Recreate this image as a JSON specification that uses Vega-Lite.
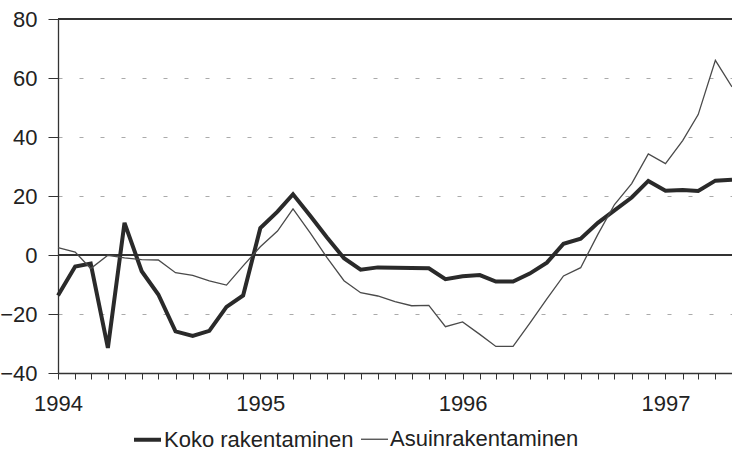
{
  "$schema": "https://vega.github.io/schema/vega-lite/v6.json",
  "width": 674,
  "height": 354,
  "autosize": {"type": "none"},
  "padding": {"left": 58, "top": 19, "right": 0, "bottom": 76},
  "background": "#ffffff",
  "config": {
    "view": {"stroke": null},
    "font": "Liberation Sans",
    "axis": {"domainColor": "#333333", "tickColor": "#333333", "labelColor": "#222222", "labelFont": "Liberation Sans", "domainWidth": 1.3, "tickWidth": 1}
  },
  "data": {
    "values": [
      {"kk": "1994-01-01", "sarja": "Koko rakentaminen", "arvo": -13.7},
      {"kk": "1994-02-01", "sarja": "Koko rakentaminen", "arvo": -3.9},
      {"kk": "1994-03-01", "sarja": "Koko rakentaminen", "arvo": -2.9},
      {"kk": "1994-04-01", "sarja": "Koko rakentaminen", "arvo": -31.5},
      {"kk": "1994-05-01", "sarja": "Koko rakentaminen", "arvo": 10.9},
      {"kk": "1994-06-01", "sarja": "Koko rakentaminen", "arvo": -5.5},
      {"kk": "1994-07-01", "sarja": "Koko rakentaminen", "arvo": -13.4},
      {"kk": "1994-08-01", "sarja": "Koko rakentaminen", "arvo": -25.9},
      {"kk": "1994-09-01", "sarja": "Koko rakentaminen", "arvo": -27.4},
      {"kk": "1994-10-01", "sarja": "Koko rakentaminen", "arvo": -25.7},
      {"kk": "1994-11-01", "sarja": "Koko rakentaminen", "arvo": -17.6},
      {"kk": "1994-12-01", "sarja": "Koko rakentaminen", "arvo": -13.7},
      {"kk": "1995-01-01", "sarja": "Koko rakentaminen", "arvo": 9.1},
      {"kk": "1995-02-01", "sarja": "Koko rakentaminen", "arvo": 14.7},
      {"kk": "1995-03-01", "sarja": "Koko rakentaminen", "arvo": 20.6},
      {"kk": "1995-04-01", "sarja": "Koko rakentaminen", "arvo": 13.3},
      {"kk": "1995-05-01", "sarja": "Koko rakentaminen", "arvo": 6.0},
      {"kk": "1995-06-01", "sarja": "Koko rakentaminen", "arvo": -1.1},
      {"kk": "1995-07-01", "sarja": "Koko rakentaminen", "arvo": -5.0},
      {"kk": "1995-08-01", "sarja": "Koko rakentaminen", "arvo": -4.2},
      {"kk": "1995-09-01", "sarja": "Koko rakentaminen", "arvo": -4.3},
      {"kk": "1995-10-01", "sarja": "Koko rakentaminen", "arvo": -4.4},
      {"kk": "1995-11-01", "sarja": "Koko rakentaminen", "arvo": -4.5},
      {"kk": "1995-12-01", "sarja": "Koko rakentaminen", "arvo": -8.2},
      {"kk": "1996-01-01", "sarja": "Koko rakentaminen", "arvo": -7.2},
      {"kk": "1996-02-01", "sarja": "Koko rakentaminen", "arvo": -6.8},
      {"kk": "1996-03-01", "sarja": "Koko rakentaminen", "arvo": -9.0},
      {"kk": "1996-04-01", "sarja": "Koko rakentaminen", "arvo": -9.0},
      {"kk": "1996-05-01", "sarja": "Koko rakentaminen", "arvo": -6.3},
      {"kk": "1996-06-01", "sarja": "Koko rakentaminen", "arvo": -2.6},
      {"kk": "1996-07-01", "sarja": "Koko rakentaminen", "arvo": 3.8},
      {"kk": "1996-08-01", "sarja": "Koko rakentaminen", "arvo": 5.5},
      {"kk": "1996-09-01", "sarja": "Koko rakentaminen", "arvo": 10.9},
      {"kk": "1996-10-01", "sarja": "Koko rakentaminen", "arvo": 15.1},
      {"kk": "1996-11-01", "sarja": "Koko rakentaminen", "arvo": 19.5},
      {"kk": "1996-12-01", "sarja": "Koko rakentaminen", "arvo": 25.1},
      {"kk": "1997-01-01", "sarja": "Koko rakentaminen", "arvo": 21.8},
      {"kk": "1997-02-01", "sarja": "Koko rakentaminen", "arvo": 22.0},
      {"kk": "1997-03-01", "sarja": "Koko rakentaminen", "arvo": 21.7},
      {"kk": "1997-04-01", "sarja": "Koko rakentaminen", "arvo": 25.2},
      {"kk": "1997-05-01", "sarja": "Koko rakentaminen", "arvo": 25.5},
      {"kk": "1994-01-01", "sarja": "Asuinrakentaminen", "arvo": 2.5},
      {"kk": "1994-02-01", "sarja": "Asuinrakentaminen", "arvo": 1.0},
      {"kk": "1994-03-01", "sarja": "Asuinrakentaminen", "arvo": -4.6},
      {"kk": "1994-04-01", "sarja": "Asuinrakentaminen", "arvo": -0.1},
      {"kk": "1994-05-01", "sarja": "Asuinrakentaminen", "arvo": -1.0},
      {"kk": "1994-06-01", "sarja": "Asuinrakentaminen", "arvo": -1.6},
      {"kk": "1994-07-01", "sarja": "Asuinrakentaminen", "arvo": -1.7},
      {"kk": "1994-08-01", "sarja": "Asuinrakentaminen", "arvo": -6.0},
      {"kk": "1994-09-01", "sarja": "Asuinrakentaminen", "arvo": -6.9},
      {"kk": "1994-10-01", "sarja": "Asuinrakentaminen", "arvo": -8.8},
      {"kk": "1994-11-01", "sarja": "Asuinrakentaminen", "arvo": -10.2},
      {"kk": "1994-12-01", "sarja": "Asuinrakentaminen", "arvo": -3.7},
      {"kk": "1995-01-01", "sarja": "Asuinrakentaminen", "arvo": 2.8},
      {"kk": "1995-02-01", "sarja": "Asuinrakentaminen", "arvo": 8.1},
      {"kk": "1995-03-01", "sarja": "Asuinrakentaminen", "arvo": 15.6},
      {"kk": "1995-04-01", "sarja": "Asuinrakentaminen", "arvo": 7.5},
      {"kk": "1995-05-01", "sarja": "Asuinrakentaminen", "arvo": -0.8},
      {"kk": "1995-06-01", "sarja": "Asuinrakentaminen", "arvo": -8.7},
      {"kk": "1995-07-01", "sarja": "Asuinrakentaminen", "arvo": -12.8},
      {"kk": "1995-08-01", "sarja": "Asuinrakentaminen", "arvo": -13.9},
      {"kk": "1995-09-01", "sarja": "Asuinrakentaminen", "arvo": -15.8},
      {"kk": "1995-10-01", "sarja": "Asuinrakentaminen", "arvo": -17.2},
      {"kk": "1995-11-01", "sarja": "Asuinrakentaminen", "arvo": -17.1},
      {"kk": "1995-12-01", "sarja": "Asuinrakentaminen", "arvo": -24.3},
      {"kk": "1996-01-01", "sarja": "Asuinrakentaminen", "arvo": -22.7},
      {"kk": "1996-02-01", "sarja": "Asuinrakentaminen", "arvo": -26.9},
      {"kk": "1996-03-01", "sarja": "Asuinrakentaminen", "arvo": -31.0},
      {"kk": "1996-04-01", "sarja": "Asuinrakentaminen", "arvo": -31.0},
      {"kk": "1996-05-01", "sarja": "Asuinrakentaminen", "arvo": -23.2},
      {"kk": "1996-06-01", "sarja": "Asuinrakentaminen", "arvo": -14.9},
      {"kk": "1996-07-01", "sarja": "Asuinrakentaminen", "arvo": -7.1},
      {"kk": "1996-08-01", "sarja": "Asuinrakentaminen", "arvo": -4.3},
      {"kk": "1996-09-01", "sarja": "Asuinrakentaminen", "arvo": 7.0},
      {"kk": "1996-10-01", "sarja": "Asuinrakentaminen", "arvo": 17.1},
      {"kk": "1996-11-01", "sarja": "Asuinrakentaminen", "arvo": 24.2},
      {"kk": "1996-12-01", "sarja": "Asuinrakentaminen", "arvo": 34.3},
      {"kk": "1997-01-01", "sarja": "Asuinrakentaminen", "arvo": 31.0},
      {"kk": "1997-02-01", "sarja": "Asuinrakentaminen", "arvo": 38.8},
      {"kk": "1997-03-01", "sarja": "Asuinrakentaminen", "arvo": 47.6},
      {"kk": "1997-04-01", "sarja": "Asuinrakentaminen", "arvo": 66.0},
      {"kk": "1997-05-01", "sarja": "Asuinrakentaminen", "arvo": 57.0}
    ]
  },
  "layer": [
    {
      "mark": {"type": "rule", "stroke": "#333333", "strokeWidth": 1.3},
      "encoding": {"y": {"datum": 0, "type": "quantitative"}}
    },
    {
      "mark": {"type": "rule", "stroke": "#333333", "strokeWidth": 1.3},
      "encoding": {"y": {"datum": 80, "type": "quantitative"}}
    },
    {
      "mark": {"type": "line", "strokeJoin": "miter", "strokeCap": "butt"},
      "encoding": {
        "x": {
          "field": "kk",
          "type": "temporal",
          "title": null,
          "scale": {"type": "utc", "domain": ["1994-01-01", "1997-05-01"]},
          "axis": {
            "tickCount": {"interval": "month", "step": 1},
            "labelExpr": "utcmonth(datum.value) == 0 ? utcFormat(datum.value, '%Y') : ''",
            "labelOverlap": false,
            "labelFlush": false,
            "labelBound": false,
            "labelFontSize": 22,
            "labelPadding": 14,
            "tickSize": 6,
            "grid": false
          }
        },
        "y": {
          "field": "arvo",
          "type": "quantitative",
          "title": null,
          "scale": {"domain": [-40, 80], "nice": false, "zero": false},
          "axis": {
            "values": [-40, -35, -30, -25, -20, -15, -10, -5, 0, 5, 10, 15, 20, 25, 30, 35, 40, 45, 50, 55, 60, 65, 70, 75, 80],
            "labelExpr": "datum.value % 20 == 0 ? datum.label : ''",
            "labelFontSize": 22,
            "labelPadding": 11,
            "labelOverlap": false,
            "labelBound": false,
            "tickSize": {"condition": {"test": "datum.value % 20 == 0", "value": 10}, "value": 5},
            "grid": true,
            "gridDash": [4, 17],
            "gridColor": "#aaaaaa",
            "gridWidth": 1,
            "gridOpacity": {"condition": {"test": "datum.value % 20 == 0 && datum.value != 0 && datum.value != 80 && datum.value != -40", "value": 1}, "value": 0}
          }
        },
        "color": {
          "field": "sarja",
          "type": "nominal",
          "scale": {"domain": ["Koko rakentaminen", "Asuinrakentaminen"], "range": ["#2a2a2a", "#4a4a4a"]},
          "legend": {
            "title": null,
            "orient": "none",
            "legendX": 74,
            "legendY": 405,
            "direction": "horizontal",
            "symbolType": "stroke",
            "symbolSize": 729,
            "labelFontSize": 22,
            "labelFont": "Liberation Sans",
            "labelColor": "#222222",
            "labelOffset": 1,
            "labelLimit": 0,
            "columnPadding": 4
          }
        },
        "strokeWidth": {
          "field": "sarja",
          "type": "nominal",
          "scale": {"domain": ["Koko rakentaminen", "Asuinrakentaminen"], "range": [4, 1.3]},
          "legend": {
            "title": null,
            "orient": "none",
            "legendX": 74,
            "legendY": 405,
            "direction": "horizontal",
            "symbolType": "stroke",
            "symbolSize": 729,
            "labelFontSize": 22,
            "labelFont": "Liberation Sans",
            "labelColor": "#222222",
            "labelOffset": 1,
            "labelLimit": 0,
            "columnPadding": 4
          }
        }
      }
    }
  ]
}
